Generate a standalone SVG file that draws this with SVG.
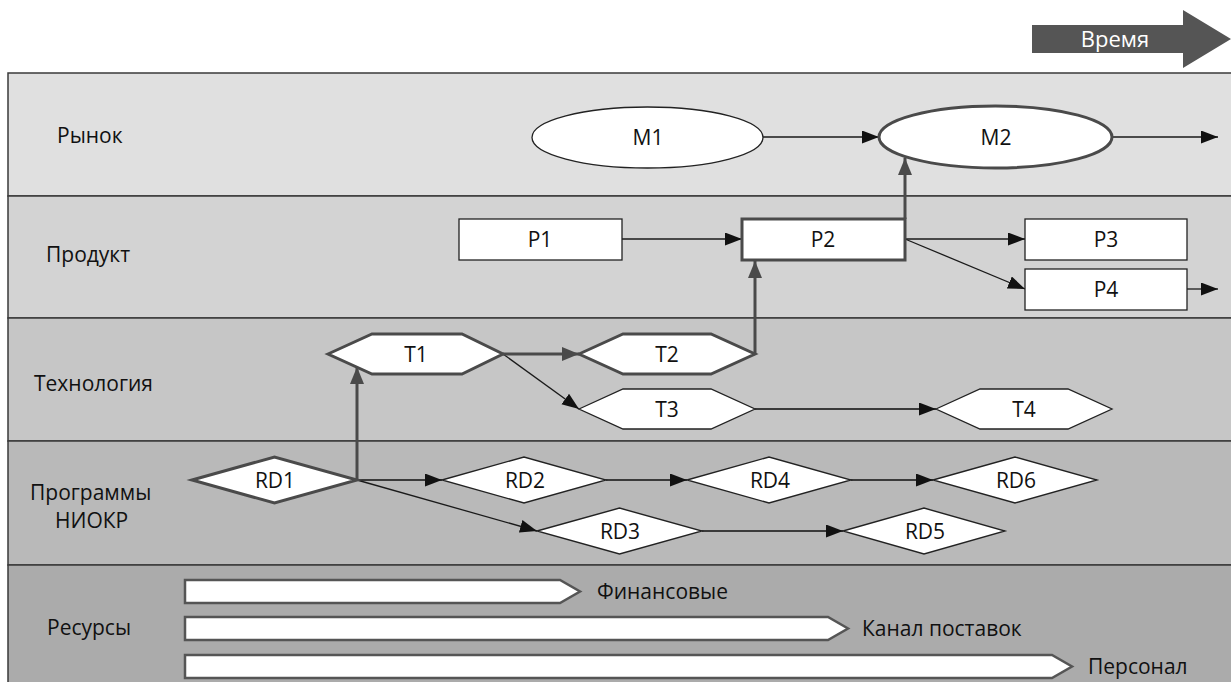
<svg xmlns="http://www.w3.org/2000/svg" width="1231" height="682" viewBox="0 0 1231 682">
<style>
.band{stroke:#3a3a3a;stroke-width:1.5}
.t{font-family:"Open Sans","Liberation Sans",sans-serif;font-size:21px;fill:#111}
.m{text-anchor:middle}
.thin{fill:#fff;stroke:#222;stroke-width:1.3}
.thick{fill:#fff;stroke:#4a4a4a;stroke-width:3}
.res{fill:#fff;stroke:#555;stroke-width:2.5}
.c{fill:none;stroke:#1a1a1a;stroke-width:1.3;marker-end:url(#ah)}
.cm{fill:none;stroke:#3a3a3a;stroke-width:1.8;marker-end:url(#ah)}
.cg{fill:none;stroke:#4a4a4a;stroke-width:3;marker-end:url(#ahg)}
</style>
<defs>
<marker id="ah" markerUnits="userSpaceOnUse" markerWidth="18" markerHeight="14" refX="17" refY="6.5" orient="auto"><path d="M0,0 L17,6.5 L0,13 z" fill="#111"/></marker>
<marker id="ahg" markerUnits="userSpaceOnUse" markerWidth="18" markerHeight="15" refX="17" refY="7" orient="auto"><path d="M0,0 L17,7 L0,14 z" fill="#4a4a4a"/></marker>
</defs>
<rect width="1231" height="682" fill="#fff"/>
<g id="time">
<polygon points="1032,25 1183,25 1183,10 1231,39 1183,68 1183,53 1032,53" fill="#555"/>
<text class="t m" x="1115" y="47" style="fill:#fff;font-size:22px">Время</text>
</g>
<g id="bands">
<rect class="band" x="8" y="73" width="1240" height="123" fill="#e0e0e0"/>
<rect class="band" x="8" y="196" width="1240" height="122" fill="#d3d3d3"/>
<rect class="band" x="8" y="318" width="1240" height="123" fill="#c6c6c6"/>
<rect class="band" x="8" y="441" width="1240" height="124" fill="#b9b9b9"/>
<rect class="band" x="8" y="565" width="1240" height="130" fill="#ababab"/>
<text class="t" x="57" y="143">Рынок</text>
<text class="t" x="46" y="262">Продукт</text>
<text class="t" x="34" y="391">Технология</text>
<text class="t" x="30" y="500">Программы</text>
<text class="t" x="55" y="528">НИОКР</text>
<text class="t" x="47" y="635">Ресурсы</text>
</g>
<g id="connectors">
<path class="c" d="M763,137 H879"/>
<path class="c" d="M1112,137 H1218"/>
<path class="c" d="M622,239 H742"/>
<path class="c" d="M905,239 H1025"/>
<path class="c" d="M905,239 L1025,289"/>
<path class="c" d="M1187,289 H1218"/>
<path class="c" d="M503,354 L579,409"/>
<path class="cm" d="M755,409 H936"/>
<path class="cm" d="M357,480 H442"/>
<path class="c" d="M357,480 L537,531"/>
<path class="cm" d="M606,480 H687"/>
<path class="cm" d="M851,480 H933"/>
<path class="cm" d="M702,531 H843"/>
<path class="cg" d="M357,480 V367"/>
<path class="cg" d="M503,354 H579"/>
<path class="cg" d="M755,354 V261"/>
<path class="cg" d="M905,219 V158"/>
</g>
<g id="M1"><ellipse class="thin" cx="647.5" cy="137.5" rx="115.5" ry="30.5"/><text class="t m" x="648" y="145">M1</text></g>
<g id="M2"><ellipse class="thick" cx="995.5" cy="137" rx="116.5" ry="31"/><text class="t m" x="996" y="145">M2</text></g>
<g id="P1"><rect class="thin" x="459" y="219" width="163" height="41"/><text class="t m" x="540" y="247">P1</text></g>
<g id="P2"><rect class="thick" x="742" y="219" width="163" height="41"/><text class="t m" x="823" y="247">P2</text></g>
<g id="P3"><rect class="thin" x="1025" y="219" width="162" height="41"/><text class="t m" x="1106" y="247">P3</text></g>
<g id="P4"><rect class="thin" x="1025" y="269" width="162" height="41"/><text class="t m" x="1106" y="297">P4</text></g>
<g id="T1"><polygon class="thick" points="328,354 372,334 462,334 503,354 462,374 372,374"/><text class="t m" x="416" y="362">T1</text></g>
<g id="T2"><polygon class="thick" points="579,354 623,334 711,334 755,354 711,374 623,374"/><text class="t m" x="667" y="362">T2</text></g>
<g id="T3"><polygon class="thin" points="579,409 623,389 711,389 755,409 711,429 623,429"/><text class="t m" x="667" y="417">T3</text></g>
<g id="T4"><polygon class="thin" points="936,409 980,389 1068,389 1112,409 1068,429 980,429"/><text class="t m" x="1024" y="417">T4</text></g>
<g id="RD1"><polygon class="thick" points="192,480 274.5,457 357,480 274.5,503"/><text class="t m" x="275" y="488">RD1</text></g>
<g id="RD2"><polygon class="thin" points="442,480 524,457 606,480 524,503"/><text class="t m" x="525" y="488">RD2</text></g>
<g id="RD4"><polygon class="thin" points="687,480 769,457 851,480 769,503"/><text class="t m" x="770" y="488">RD4</text></g>
<g id="RD6"><polygon class="thin" points="933,480 1015,457 1097,480 1015,503"/><text class="t m" x="1016" y="488">RD6</text></g>
<g id="RD3"><polygon class="thin" points="537,531 619.5,508 702,531 619.5,554"/><text class="t m" x="620" y="539">RD3</text></g>
<g id="RD5"><polygon class="thin" points="843,531 924,508 1005,531 924,554"/><text class="t m" x="925" y="539">RD5</text></g>
<g id="R1"><polygon class="res" points="185,580 560,580 580,591.5 560,603 185,603"/><text class="t" x="597" y="599">Финансовые</text></g>
<g id="R2"><polygon class="res" points="185,617 828,617 848,628.5 828,640 185,640"/><text class="t" x="862" y="636">Канал поставок</text></g>
<g id="R3"><polygon class="res" points="185,655 1052,655 1072,666.5 1052,678 185,678"/><text class="t" x="1088" y="674">Персонал</text></g>
</svg>
